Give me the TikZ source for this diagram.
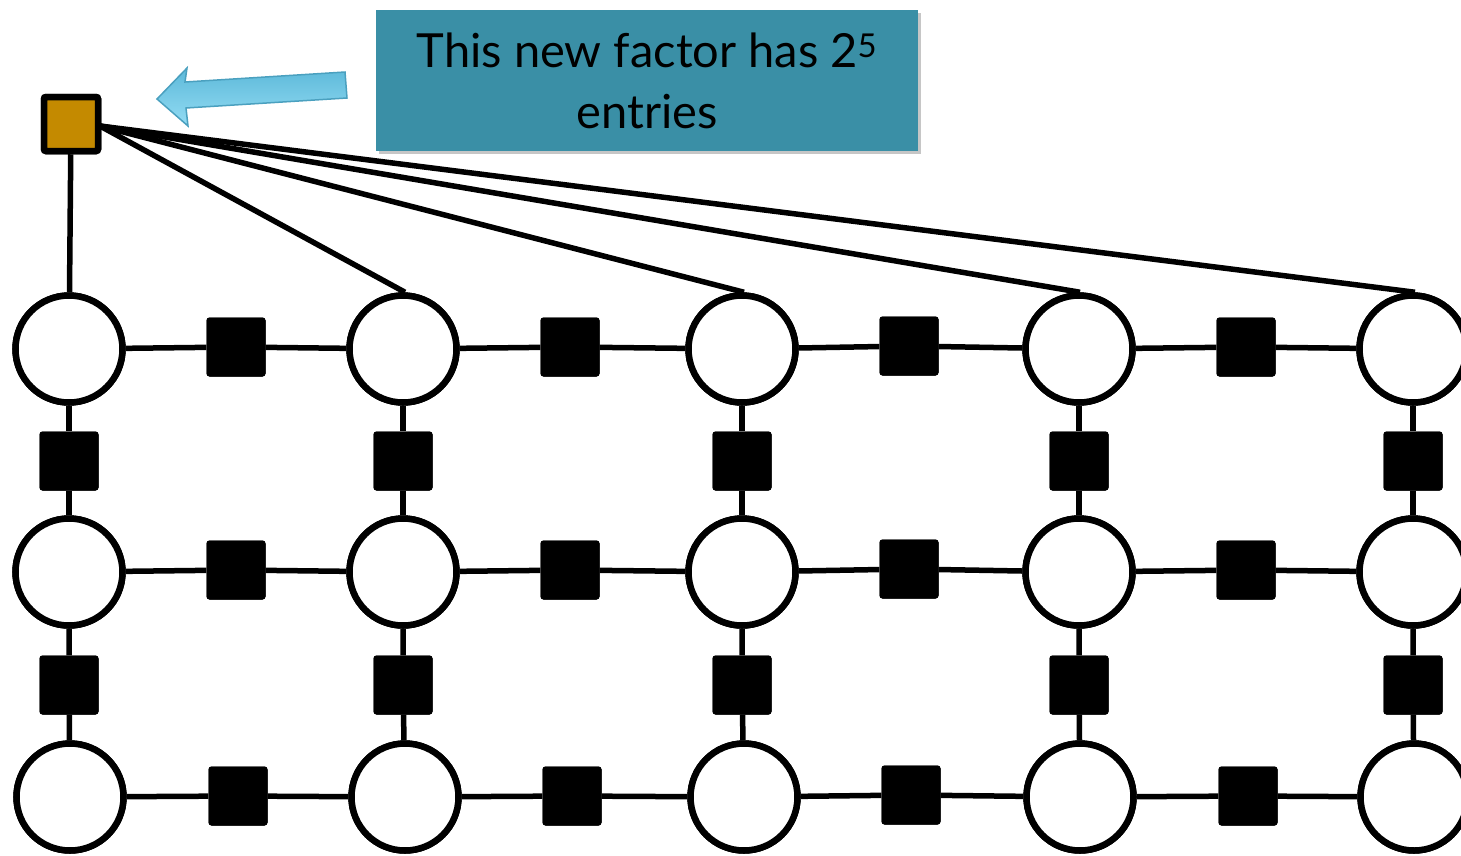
\documentclass[tikz,border=0pt]{standalone}
\usepackage{fontspec}
\setmainfont{Lato}
\usetikzlibrary{shadows}
\definecolor{boxblue}{HTML}{3A8FA6}
\definecolor{gold}{HTML}{C48A00}
\definecolor{arrowtop}{HTML}{5DB9D9}
\definecolor{arrowbot}{HTML}{93DCF4}
\definecolor{arrowline}{HTML}{4AA0BF}
\tikzset{
  var/.style={circle, draw=black, fill=white, line width=6.5pt, inner sep=0pt, minimum size=107pt},
  fac/.style={rectangle, fill=black, rounded corners=3pt, inner sep=0pt, minimum size=59pt},
  bigfac/.style={rectangle, draw=black, fill=gold, line width=6.5pt, rounded corners=2pt, inner sep=0pt, minimum size=54pt},
  edge/.style={line width=5.5pt},
  lbl/.style={font=\fontsize{47}{61}\selectfont, text=black, inner sep=0pt, anchor=base},
}
\begin{document}
\begin{tikzpicture}[x=1pt,y=-1pt]
\useasboundingbox (0,0) rectangle (1461,855);
\clip (0,0) rectangle (1461,855);
% text box
\node[fill=boxblue, minimum width=542pt, minimum height=141pt, inner sep=0pt,
  drop shadow={shadow xshift=3pt, shadow yshift=-3pt, opacity=0.45}]
  (box) at (647,80.5) {};
\node[lbl] (txt1) at (647,67) {This new factor has 2\textsuperscript{5}};
\node[lbl] (txt2) at (647,128) {entries};
% arrow
\shade[top color=arrowtop, bottom color=arrowbot, draw=arrowline, line width=1.5pt]
  (345,72) -- (185,82) -- (187,68) -- (157,99) -- (188,126) -- (186,108) -- (347,98) -- cycle;
% variables
\foreach \n/\x/\y in {11/69/349,12/403/349,13/742/349,14/1079/349,15/1413/349,
                      21/69/572,22/403/572,23/742/572,24/1079/572,25/1413/572,
                      31/70/797,32/405/797,33/744/797,34/1080/797,35/1414/797}
  \node[var] (c\n) at (\x,\y) {};
% horizontal factors
\foreach \n/\x/\y in {11/236/347,12/570/347,13/909/346,14/1246/347,
                      21/236/570,22/570/570,23/909/569,24/1246/570,
                      31/238/796,32/572/796,33/911/795,34/1248/796}
  \node[fac] (h\n) at (\x,\y) {};
% vertical factors
\foreach \n/\x/\y in {11/69/461,12/403/461,13/742/461,14/1079/461,15/1413/461,
                      21/69/685,22/403/685,23/742/685,24/1079/685,25/1413/685}
  \node[fac] (v\n) at (\x,\y) {};
% horizontal edges
\foreach \r in {1,2,3}{
  \foreach \a/\b in {1/2,2/3,3/4,4/5}{
    \draw[edge] (c\r\a) -- (h\r\a) -- (c\r\b);
  }
}
% vertical edges
\foreach \c in {1,...,5}{
  \draw[edge] (c1\c) -- (v1\c) -- (c2\c);
  \draw[edge] (c2\c) -- (v2\c) -- (c3\c);
}
% redraw nodes over edges
\foreach \n/\x/\y in {11/69/349,12/403/349,13/742/349,14/1079/349,15/1413/349,
                      21/69/572,22/403/572,23/742/572,24/1079/572,25/1413/572,
                      31/70/797,32/405/797,33/744/797,34/1080/797,35/1414/797}
  \node[var] at (\x,\y) {};
\foreach \n/\x/\y in {11/236/347,12/570/347,13/909/346,14/1246/347,
                      21/236/570,22/570/570,23/909/569,24/1246/570,
                      31/238/796,32/572/796,33/911/795,34/1248/796,
                      11/69/461,12/403/461,13/742/461,14/1079/461,15/1413/461,
                      21/69/685,22/403/685,23/742/685,24/1079/685,25/1413/685}
  \node[fac] at (\x,\y) {};
% big factor
\node[bigfac] (T) at (71,124) {};
\coordinate (Tr) at (100,126);
\draw[edge] (T) -- (c11);
\draw[edge] (Tr) -- ([xshift=2pt]c12.north);
\draw[edge] (Tr) -- ([xshift=2pt]c13.north);
\draw[edge] (Tr) -- ([xshift=1pt]c14.north);
\draw[edge] (Tr) -- ([xshift=2pt]c15.north);
\node[bigfac] at (71,124) {};
\end{tikzpicture}
\end{document}
